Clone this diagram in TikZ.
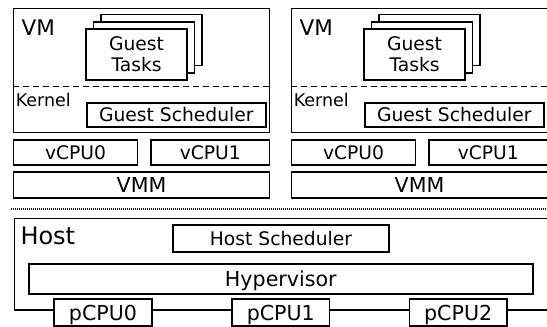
\documentclass[tikz,border=0pt]{standalone}
\usepackage{fontspec}
\setmainfont{DejaVu Sans}
\begin{document}
\begin{tikzpicture}[x=1pt,y=-1pt,
  bx/.style={draw, line width=1.8pt, inner sep=0pt, rectangle},
  wb/.style={bx, fill=white},
  fa/.style={font=\fontsize{18.7}{21}\selectfont, text height=13.6pt, text depth=0pt},
  fb/.style={font=\fontsize{20.6}{23}\selectfont, text height=15pt, text depth=0pt},
  lbl/.style={inner sep=0pt, anchor=base west},
  dashln/.style={line width=1.8pt, dash pattern=on 6pt off 4pt},
  dotln/.style={line width=1.8pt, dash pattern=on 1pt off 1pt, draw=black!90},
]
\useasboundingbox (0,0) rectangle (547,327);
\clip (0,0) rectangle (547,327);
\foreach \c/\dx in {L/0,R/278}{
  \node[bx, minimum width=256, minimum height=124] (vm\c) at (\dx+141.5,70.5) {};
  \draw[dashln] ([yshift=-16pt]vm\c.west) -- ([yshift=-16pt]vm\c.east);
  \node[wb, minimum width=101, minimum height=51] (tkc\c) at (\dx+151.2,40) {};
  \node[wb, minimum width=101, minimum height=51] (tkb\c) at (\dx+143.9,47.3) {};
  \node[wb, minimum width=101, minimum height=51] (tka\c) at (\dx+136.6,54.6) {};
  \node[inner sep=0pt, anchor=base, font=\fontsize{18.7}{21}\selectfont] (tt\c) at (\dx+136.6,50) {\begin{tabular}[t]{@{}c@{}}Guest\\Tasks\end{tabular}};
  \node[lbl, font=\fontsize{21.5}{25}\selectfont] (vml\c) at (\dx+21.5,35.7) {VM};
  \node[lbl, font=\fontsize{17.5}{20}\selectfont] (kn\c) at (\dx+15.6,106.7) {Kernel};
  \node[bx, fa, minimum width=179.3, minimum height=24.2] (gs\c) at (\dx+176.3,114.9) {Guest Scheduler};
  \node[bx, fa, minimum width=124, minimum height=25] (vca\c) at (\dx+75.5,152.5) {vCPU0};
  \node[bx, fa, minimum width=118.5, minimum height=25] (vcb\c) at (\dx+210.25,152.5) {vCPU1};
  \node[bx, fb, minimum width=256, minimum height=26] (vmm\c) at (\dx+141.5,185.3) {VMM};
}
\coordinate (da) at (11,209.3);
\coordinate (db) at (547,209.3);
\draw[dotln] (da) -- (db);
\node[bx, anchor=north west, minimum width=546.5, minimum height=91.5] (host) at (13.5,217.5) {};
\node[lbl, font=\fontsize{24}{28}\selectfont] (hostl) at (20.3,244) {Host};
\node[bx, fa, minimum width=216.6, minimum height=26.7] (hs) at (281,238.3) {Host Scheduler};
\node[bx, fb, minimum width=503.7, minimum height=30.3] (hv) at (280.8,279.1) {Hypervisor};
\foreach \i/\x in {0/103,1/280.8,2/458.2}
  \node[wb, fb, minimum width=97.5, minimum height=26.7] (p\i) at (\x,312.6) {pCPU\i};
\end{tikzpicture}
\end{document}
